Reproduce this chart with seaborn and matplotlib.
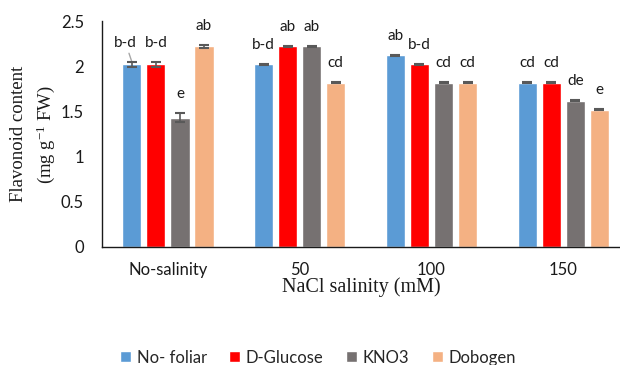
import matplotlib
matplotlib.use("Agg")
import matplotlib.pyplot as plt
from matplotlib.patches import Rectangle
import seaborn as sns
import pandas as pd
import numpy as np

categories = ["No-salinity", "50", "100", "150"]
treatments = ["No- foliar", "D-Glucose", "KNO3", "Dobogen"]
no_foliar = [2.02, 2.02, 2.12, 1.82]
d_glucose = [2.02, 2.22, 2.02, 1.82]
kno3 = [1.43, 2.22, 1.82, 1.62]
dobogen = [2.22, 1.82, 1.82, 1.52]
err_no_foliar = [0.03, 0.005, 0.005, 0.005]
err_d_glucose = [0.03, 0.005, 0.005, 0.005]
err_kno3 = [0.05, 0.005, 0.005, 0.005]
err_dobogen = [0.02, 0.005, 0.005, 0.005]
letters_no_foliar = ["b-d", "b-d", "ab", "cd"]
letters_d_glucose = ["b-d", "ab", "b-d", "cd"]
letters_kno3 = ["e", "ab", "cd", "de"]
letters_dobogen = ["ab", "cd", "cd", "e"]

colors = ["#5B9BD5", "#FF0000", "#767171", "#F4B183"]

values = [no_foliar, d_glucose, kno3, dobogen]
errors = [err_no_foliar, err_d_glucose, err_kno3, err_dobogen]
letters = [letters_no_foliar, letters_d_glucose, letters_kno3, letters_dobogen]

rows = []
for t, vals in zip(treatments, values):
    for c, v in zip(categories, vals):
        rows.append({"Salinity": c, "Treatment": t, "Flavonoid": v})
df = pd.DataFrame(rows)

sns.set_theme(style="white")
plt.rcParams["font.family"] = ["Lato", "DejaVu Sans"]
plt.rcParams["mathtext.fontset"] = "stix"

fig = plt.figure(figsize=(6.2, 3.65), dpi=100)
ax = fig.add_axes([0.1645, 0.3233, 0.8355, 0.619])

sns.barplot(data=df, x="Salinity", y="Flavonoid", hue="Treatment",
            order=categories, hue_order=treatments, palette=colors,
            width=0.73, gap=0.2, errorbar=None, ax=ax, legend=True,
            saturation=1)

bars = [p for p in ax.patches if isinstance(p, Rectangle) and p.get_height() > 0]
bars = sorted(bars, key=lambda b: b.get_x())
for k, b in enumerate(bars):
    j, i = divmod(k, 4)  # j category, i treatment
    x = b.get_x() + b.get_width() / 2
    h = b.get_height()
    e = errors[i][j]
    ax.errorbar([x], [h], yerr=[e], fmt="none", ecolor="#595959",
                elinewidth=1.2, capsize=3.5, capthick=1.5, zorder=5)
    top = h + e
    if i == 0 and j == 0:
        ax.annotate(letters[i][j], xy=(x, top), xytext=(-4.5, 13.5),
                    textcoords="offset points", ha="center", va="center",
                    fontsize=11, color="#1a1a1a",
                    arrowprops=dict(arrowstyle="-", color="#a6a6a6",
                                    lw=1, shrinkA=0, shrinkB=0))
    else:
        ax.annotate(letters[i][j], xy=(x, top), xytext=(0, 13.5),
                    textcoords="offset points", ha="center", va="center",
                    fontsize=11, color="#1a1a1a")

ax.set_ylim(0, 2.5)
ax.set_xlim(-0.5, 3.43)
ax.set_yticks([0, 0.5, 1, 1.5, 2, 2.5])
ax.set_yticklabels(["0", "0.5", "1", "1.5", "2", "2.5"])
ax.tick_params(axis="both", length=0, labelsize=12, colors="#1a1a1a")
ax.tick_params(axis="x", pad=10.5)
ax.tick_params(axis="y", pad=13)
for s in ["top", "right"]:
    ax.spines[s].set_visible(False)
for s in ["left", "bottom"]:
    ax.spines[s].set_color("#1a1a1a")
    ax.spines[s].set_linewidth(1.0)

ax.set_xlabel("NaCl salinity (mM)", family=["Liberation Serif"], fontsize=14.5,
              color="#1a1a1a", labelpad=0)
ax.set_ylabel("Flavonoid content\n(mg g$\\mathregular{^{-1}}$ FW)",
              family=["Liberation Serif"], fontsize=13.5, color="#1a1a1a",
              labelpad=3, linespacing=1.45)

handles, labels = ax.get_legend_handles_labels()
if ax.legend_ is not None:
    ax.legend_.remove()
fig.legend(handles, labels, loc="center", bbox_to_anchor=(0.513, 0.02),
           ncol=4, frameon=False, fontsize=12, handlelength=0.65,
           handleheight=0.65, handletextpad=0.35, columnspacing=1.35)

fig.savefig("out.png", dpi=100)
